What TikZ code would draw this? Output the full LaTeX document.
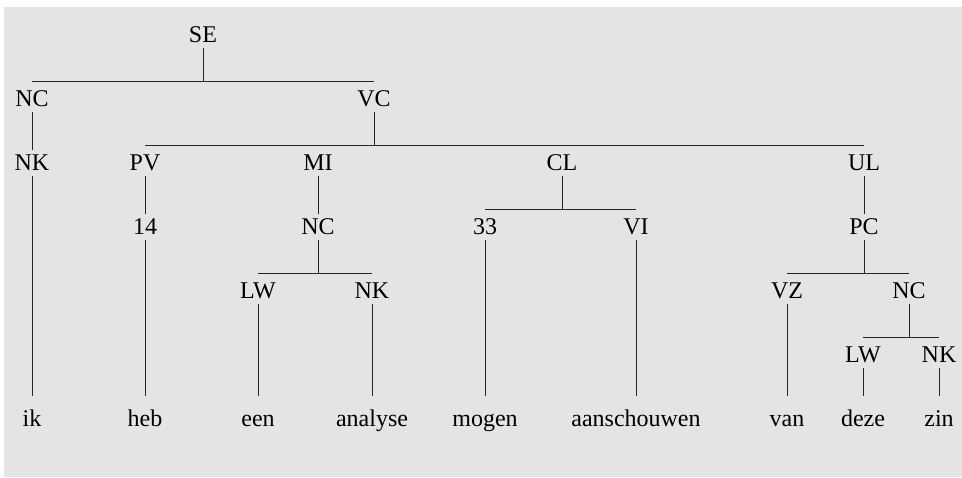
\documentclass[tikz,border=0pt]{standalone}
\usepackage{fontspec}
\setmainfont{Liberation Serif}
\usepackage{tikz}
\definecolor{panel}{RGB}{228,228,228}
\tikzstyle{lab} = [inner sep=0pt, outer ysep=5pt, text height=16pt, text depth=0pt,
    font=\fontsize{24}{28}\selectfont]
\tikzstyle{word} = [lab, outer ysep=15pt]
\tikzstyle{edge} = [draw, line width=0.8pt, black!85]

\begin{document}
\begin{tikzpicture}[x=1pt, y=1pt]
  \useasboundingbox (0,0) rectangle (962,477);
  \fill [panel] (4,0) rectangle (962,470);
   % Place nodes
    \node [lab] (se) at (203,442) {SE};
    \node [lab] (nca) at (32,378) {NC};
    \node [lab] (vc) at (374,378) {VC};
    \node [lab] (nka) at (32,314) {NK};
    \node [lab] (pv) at (145,314) {PV};
    \node [lab] (mi) at (318,314) {MI};
    \node [lab] (cl) at (562,314) {CL};
    \node [lab] (ul) at (864,314) {UL};
    \node [lab] (num14) at (145,250) {14};
    \node [lab] (ncb) at (318,250) {NC};
    \node [lab] (num33) at (485,250) {33};
    \node [lab] (vi) at (636,250) {VI};
    \node [lab] (pc) at (864,250) {PC};
    \node [lab] (lwa) at (258,186) {LW};
    \node [lab] (nkb) at (372,186) {NK};
    \node [lab] (vz) at (787,186) {VZ};
    \node [lab] (ncc) at (909,186) {NC};
    \node [lab] (lwb) at (863,122) {LW};
    \node [lab] (nkc) at (939,122) {NK};
   % Words
    \node [word] (ik) at (32,58) {ik};
    \node [word] (heb) at (145,58) {heb};
    \node [word] (een) at (258,58) {een};
    \node [word] (analyse) at (372,58) {analyse};
    \node [word] (mogen) at (485,58) {mogen};
    \node [word] (aanschouwen) at (636,58) {aanschouwen};
    \node [word] (van) at (787,58) {van};
    \node [word] (deze) at (863,58) {deze};
    \node [word] (zin) at (939,58) {zin};
   % Bar heights
    \coordinate (seBar) at ([yshift=5pt]nca.north);
    \coordinate (vcBar) at ([yshift=5pt]pv.north);
    \coordinate (clBar) at ([yshift=5pt]num33.north);
    \coordinate (ncbBar) at ([yshift=5pt]lwa.north);
    \coordinate (pcBar) at ([yshift=5pt]vz.north);
    \coordinate (nccBar) at ([yshift=5pt]lwb.north);
   % Draw edges
    \path [edge] (se.south) -- (se.south |- seBar);
    \path [edge] (nca |- seBar) -- (vc |- seBar);
    \path [edge] (vc.south) -- (vc.south |- vcBar);
    \path [edge] (pv |- vcBar) -- (ul |- vcBar);
    \path [edge] (nca) -- (nka);
    \path [edge] (pv) -- (num14);
    \path [edge] (mi) -- (ncb);
    \path [edge] (cl.south) -- (cl.south |- clBar);
    \path [edge] (num33 |- clBar) -- (vi |- clBar);
    \path [edge] (ul) -- (pc);
    \path [edge] (ncb.south) -- (ncb.south |- ncbBar);
    \path [edge] (lwa |- ncbBar) -- (nkb |- ncbBar);
    \path [edge] (pc.south) -- (pc.south |- pcBar);
    \path [edge] (vz |- pcBar) -- (ncc |- pcBar);
    \path [edge] (ncc.south) -- (ncc.south |- nccBar);
    \path [edge] (lwb |- nccBar) -- (nkc |- nccBar);
   % Words
    \path [edge] (nka) -- (ik);
    \path [edge] (num14) -- (heb);
    \path [edge] (lwa) -- (een);
    \path [edge] (nkb) -- (analyse);
    \path [edge] (num33) -- (mogen);
    \path [edge] (vi) -- (aanschouwen);
    \path [edge] (vz) -- (van);
    \path [edge] (lwb) -- (deze);
    \path [edge] (nkc) -- (zin);
\end{tikzpicture}
\end{document}
